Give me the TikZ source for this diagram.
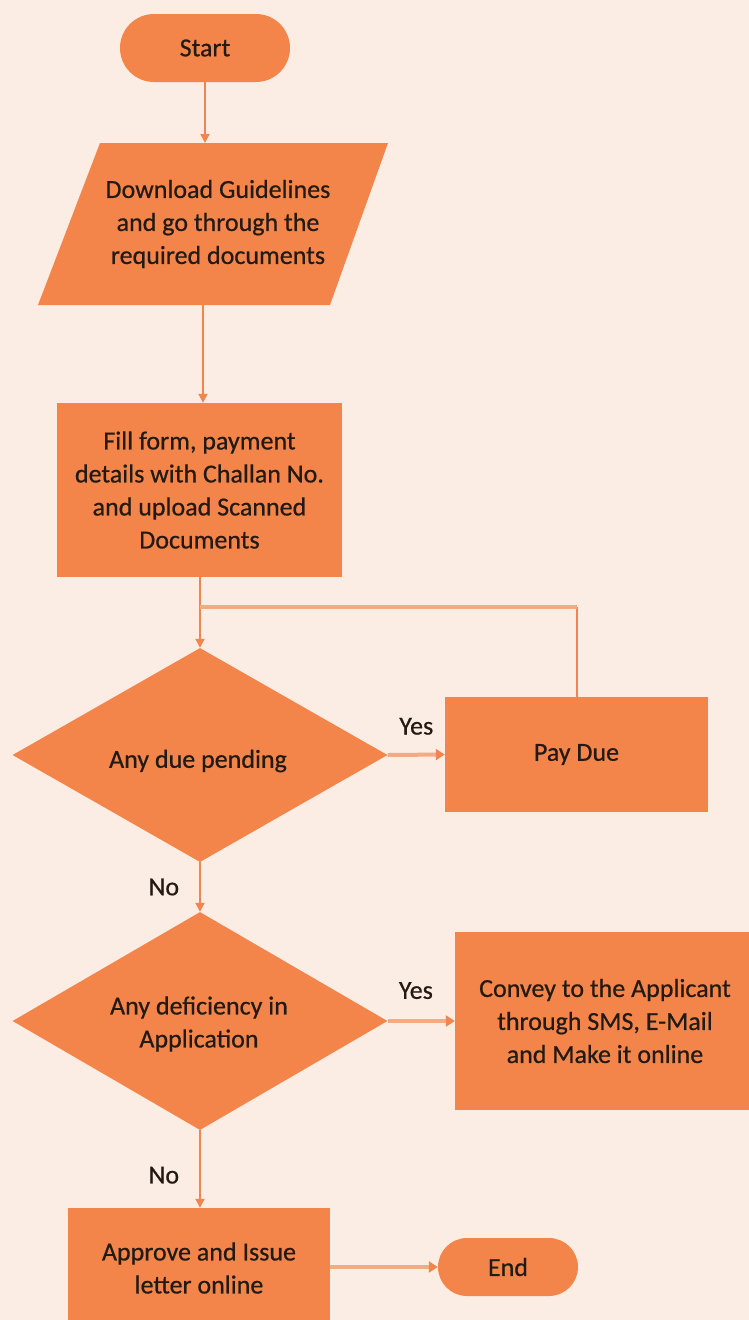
\documentclass[tikz,border=0pt]{standalone}
\usepackage{fontspec}
\setmainfont{Carlito}[FakeBold=0.6]
\usetikzlibrary{shapes.geometric,arrows.meta}
\definecolor{bgc}{HTML}{FCEDE4}
\definecolor{boxc}{HTML}{F4854A}
\definecolor{linec}{HTML}{F08550}
\definecolor{lightc}{HTML}{F5AB82}
\definecolor{txtc}{HTML}{231A14}
\tikzset{
  box/.style={fill=boxc, draw=none, inner sep=0pt, align=center, text=txtc,
    font=\fontsize{26}{33}\selectfont},
  term/.style={box, rounded corners=29pt},
  decision/.style={box, diamond, inner sep=0pt},
  flow/.style={draw=linec, line width=1.8pt, -{Triangle[length=9pt,width=9pt]}},
  flowlight/.style={draw=lightc, line width=4pt, -{Triangle[length=9pt,width=11pt,fill=linec,color=linec]}},
  lbl/.style={text=txtc, font=\fontsize{26}{28}\selectfont, inner sep=0pt}
}
\begin{document}
\begin{tikzpicture}[x=1pt,y=-1pt]
\fill[bgc] (0,0) rectangle (749,1320);
\useasboundingbox (0,0) rectangle (749,1320);

% terminal: start
\node[term, minimum width=170pt, minimum height=68pt, rounded corners=34pt] (start) at (205,48) {Start};

% input step drawn as a parallelogram
\fill[boxc] (100,143) -- (388,143) -- (330,305) -- (38,305) -- cycle;
\coordinate (guidetop) at (205,143);
\coordinate (guidebot) at (203,305);
\node[box, fill=none] (guide) at (218,224) {Download Guidelines\\and go through the\\required documents};

% process steps
\node[box, minimum width=285pt, minimum height=174pt] (form) at (199.5,490)
  {Fill form, payment\\details with Challan No.\\and upload Scanned\\Documents};
\node[decision, minimum width=375pt, minimum height=214pt] (due) at (200,755) {};
\node[box, fill=none] (duetxt) at (198,761) {Any due pending};
\node[box, minimum width=263pt, minimum height=115pt] (pay) at (576.5,754.5) {Pay Due};
\node[decision, minimum width=375pt, minimum height=218pt] (def) at (200,1021) {};
\node[box, fill=none] (deftxt) at (199,1024) {Any deficiency in\\Application};
\node[box, minimum width=300pt, minimum height=178pt] (conv) at (605,1021)
  {Convey to the Applicant\\through SMS, E-Mail\\and Make it online};
\node[box, minimum width=262pt, minimum height=120pt] (appr) at (199,1268) {Approve and Issue\\letter online};
\node[term, minimum width=140pt, minimum height=58pt] (end) at (508,1267) {End};

% connectors
\draw[flow] (start.south) -- (guidetop);
\draw[flow] (guidebot) -- (guidebot |- form.north);
\draw[flow] (form.south -| due.north) -- (due.north);
\draw[flowlight] (due.east) -- (pay.west) node[lbl, pos=0.5, above=18pt] (yes1) {Yes};
\draw[flow] (due.south) -- (def.north) node[lbl, pos=0.5, left=20pt] (no1) {No};
\draw[flowlight] (def.east) -- (conv.west) node[lbl, pos=0.42, above=20pt] (yes2) {Yes};
\draw[flow] (def.south) -- (def.south |- appr.north) node[lbl, pos=0.58, left=20pt] (no2) {No};
\draw[flowlight] (appr.east |- end.west) -- (end.west);

% loop back from paying the due
\coordinate (fbk) at (577,607);
\draw[draw=linec, line width=1.8pt] (pay.north -| fbk) -- (fbk);
\draw[draw=lightc, line width=4.5pt] (fbk) -- (fbk -| due.north);
\end{tikzpicture}
\end{document}
